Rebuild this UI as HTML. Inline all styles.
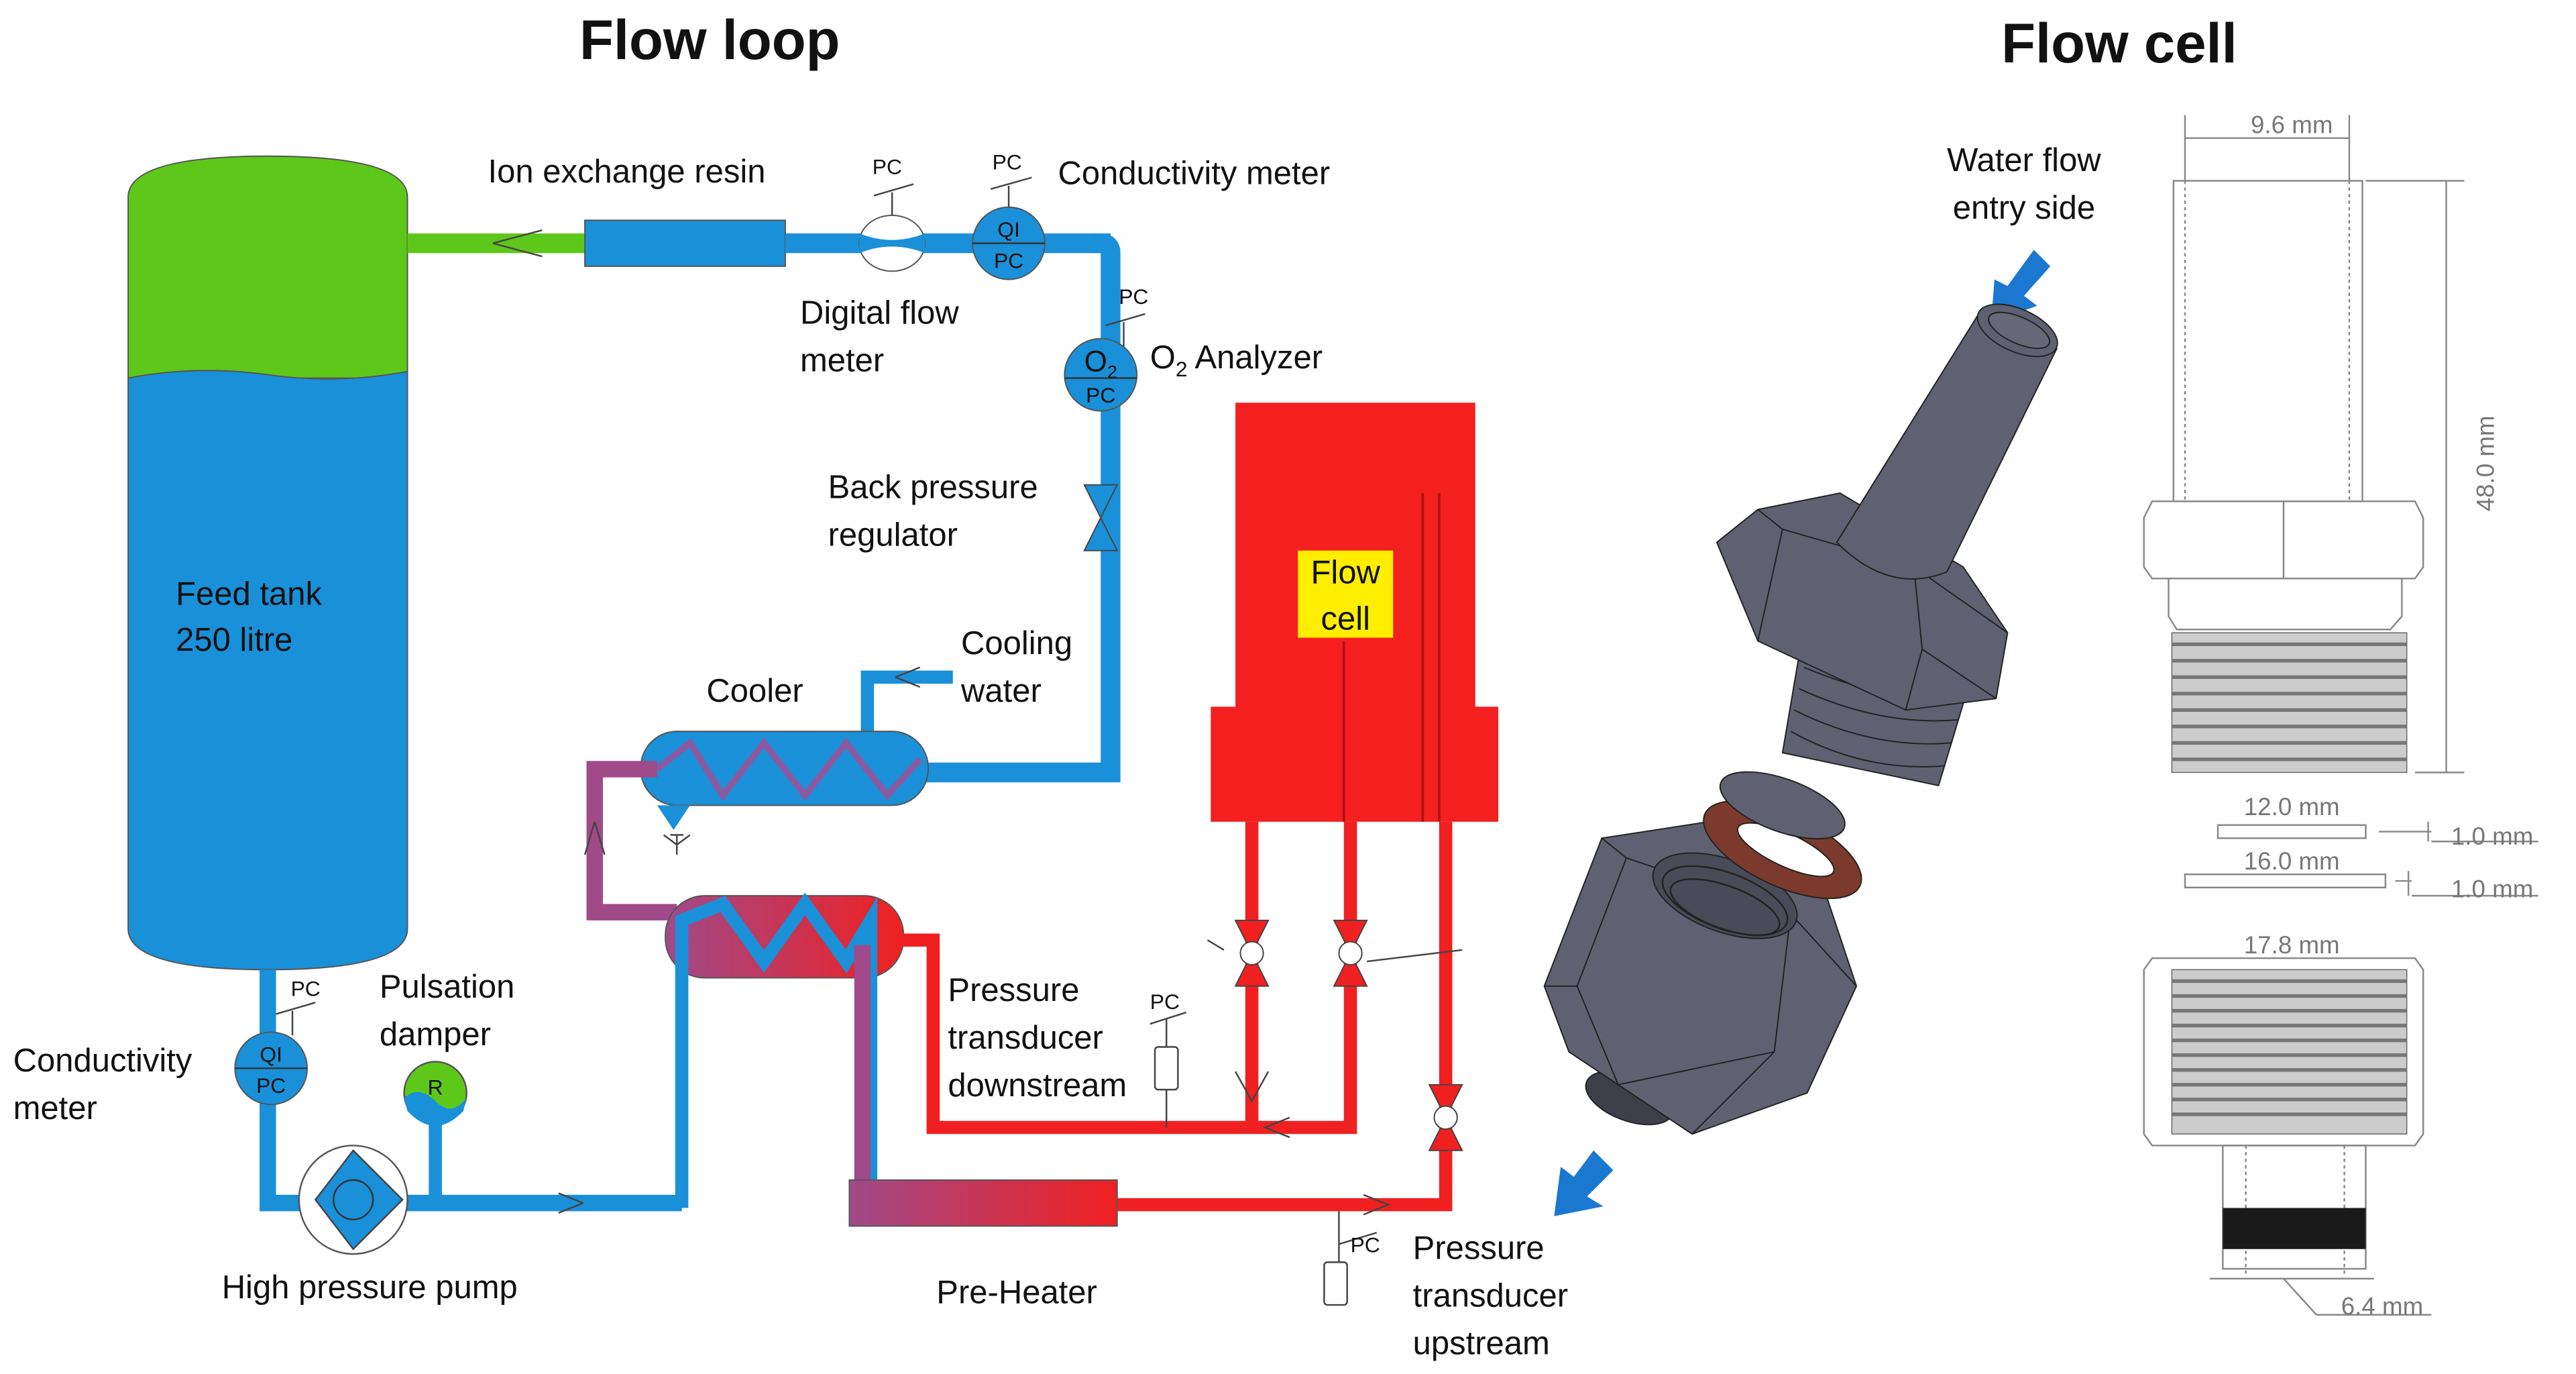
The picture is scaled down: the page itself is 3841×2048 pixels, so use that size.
<!DOCTYPE html>
<html><head><meta charset="utf-8"><style>
html,body{margin:0;padding:0;background:#fff;}
svg{display:block;}
text{font-family:"Liberation Sans",sans-serif;fill:#111;}
</style></head><body>
<svg width="3841" height="2048" viewBox="0 0 1568 836" xmlns="http://www.w3.org/2000/svg">
<defs>
<linearGradient id="hx" x1="0" x2="1"><stop offset="0" stop-color="#a04a8a"/><stop offset="1" stop-color="#f02020"/></linearGradient>
</defs>
<rect width="1568" height="836" fill="#fff"/>
<text x="432" y="36" font-size="34" font-weight="bold" text-anchor="middle">Flow loop</text>
<text x="1290" y="38" font-size="34" font-weight="bold" text-anchor="middle">Flow cell</text>

<g font-size="20">
<path d="M78,230 L78,120 Q78,95 163,95 Q248,95 248,120 L248,230 Z" fill="#5ec81a" stroke="#555" stroke-width="0.8"/>
<path d="M78,230 Q120,222 163,228 Q205,234 248,226 L248,565 Q248,590 163,590 Q78,590 78,565 Z" fill="#1a90d8" stroke="#555" stroke-width="0.8"/>
<text x="107" y="368">Feed tank</text>
<text x="107" y="396">250 litre</text>
<rect x="248" y="142" width="110" height="12" fill="#5ec81a"/>
<path d="M300,148 L330,140 M300,148 L330,156" stroke="#444" stroke-width="1"/>
<rect x="356" y="134" width="122" height="28" fill="#1a90d8" stroke="#555" stroke-width="0.8"/>
<text x="297" y="111">Ion exchange resin</text>
<rect x="478" y="142" width="198" height="12" fill="#1a90d8"/>
<ellipse cx="543" cy="148" rx="20" ry="17" fill="#fff" stroke="#555" stroke-width="0.8"/>
<path d="M523,142 Q543,150 563,142 L563,154 Q543,146 523,154 Z" fill="#1a90d8"/>
<line x1="543" y1="131" x2="543" y2="117" stroke="#444"/><line x1="532" y1="119" x2="556" y2="112" stroke="#444"/>
<text x="531" y="106" font-size="13">PC</text>
<text x="487" y="197">Digital flow</text><text x="487" y="226">meter</text>
<circle cx="614" cy="148" r="22" fill="#1a90d8" stroke="#555" stroke-width="0.8"/>
<line x1="592" y1="148" x2="636" y2="148" stroke="#333"/>
<text x="614" y="144" font-size="13" text-anchor="middle">QI</text><text x="614" y="163" font-size="13" text-anchor="middle">PC</text>
<line x1="614" y1="126" x2="614" y2="113" stroke="#444"/><line x1="603" y1="115" x2="628" y2="108" stroke="#444"/>
<text x="604" y="103" font-size="13">PC</text>
<text x="644" y="112">Conductivity meter</text>
<path d="M664,148 L670,148 Q676,148 676,154 L676,470 L560,470" fill="none" stroke="#1a90d8" stroke-width="12"/>
<circle cx="670" cy="228" r="22" fill="#1a90d8" stroke="#555" stroke-width="0.8"/>
<line x1="648" y1="230" x2="692" y2="230" stroke="#333"/>
<text x="670" y="226" font-size="18" text-anchor="middle">O<tspan font-size="11" dy="4">2</tspan></text>
<text x="670" y="245" font-size="13" text-anchor="middle">PC</text>
<line x1="684" y1="211" x2="684" y2="196" stroke="#444"/><line x1="673" y1="198" x2="697" y2="191" stroke="#444"/>
<text x="681" y="185" font-size="13">PC</text>
<text x="700" y="224">O<tspan font-size="13" dy="5">2</tspan><tspan dy="-5"> Analyzer</tspan></text>
<path d="M660,295 L680,295 L670,315 Z M670,315 L660,335 L680,335 Z" fill="#1a90d8" stroke="#444" stroke-width="0.8"/>
<text x="504" y="303">Back pressure</text><text x="504" y="332">regulator</text>
<text x="585" y="398">Cooling</text><text x="585" y="427">water</text>
<text x="430" y="427">Cooler</text>
<path d="M528,447 L528,412 L580,412" fill="none" stroke="#1a90d8" stroke-width="8"/>
<path d="M545,412 L560,406 M545,412 L560,418" stroke="#444"/>
<rect x="390" y="445" width="175" height="45" rx="22" fill="#1a90d8" stroke="#555" stroke-width="0.8"/>
<path d="M400,468 L420,452 L440,484 L465,452 L490,484 L515,452 L540,484 L560,462" fill="none" stroke="#8a5aa0" stroke-width="4"/>
<path d="M400,490 L410,505 L420,490" fill="#1a90d8"/>
<path d="M408,508 L416,508 M412,508 L412,520 M404,508 L412,514 L420,508" stroke="#444" fill="none"/>
<path d="M400,468 L362,468 L362,555 L412,555" fill="none" stroke="#a04a8a" stroke-width="10"/>
<path d="M362,500 L356,520 M362,500 L368,520" stroke="#444"/>
<rect x="405" y="545" width="145" height="50" rx="24" fill="url(#hx)" stroke="#555" stroke-width="0.8"/>
<path d="M415,735 L415,560 L440,550 L465,585 L490,550 L515,585 L530,560 L530,735" fill="none" stroke="#1a90d8" stroke-width="8"/>
<path d="M525,575 L525,735 L560,735" fill="none" stroke="#a04a8a" stroke-width="10"/>
<path d="M163,590 L163,732 L415,732" fill="none" stroke="#1a90d8" stroke-width="10"/>
<path d="M355,732 L340,726 M355,732 L340,738" stroke="#444"/>
<circle cx="215" cy="730" r="33" fill="#fff" stroke="#555"/>
<path d="M215,700 L245,730 L215,760 L192,730 Z" fill="#1a90d8" stroke="#444"/>
<circle cx="215" cy="730" r="12" fill="#1a90d8" stroke="#333"/>
<text x="135" y="790">High pressure pump</text>
<circle cx="165" cy="650" r="22" fill="#1a90d8" stroke="#555" stroke-width="0.8"/>
<line x1="143" y1="650" x2="187" y2="650" stroke="#333"/>
<text x="165" y="646" font-size="13" text-anchor="middle">QI</text><text x="165" y="665" font-size="13" text-anchor="middle">PC</text>
<line x1="178" y1="630" x2="178" y2="615" stroke="#444"/><line x1="168" y1="617" x2="192" y2="610" stroke="#444"/>
<text x="177" y="606" font-size="13">PC</text>
<text x="8" y="652">Conductivity</text><text x="8" y="681">meter</text>
<line x1="265" y1="680" x2="265" y2="732" stroke="#1a90d8" stroke-width="8"/>
<circle cx="265" cy="665" r="19" fill="#5ec81a" stroke="#555"/>
<path d="M246,668 Q255,660 265,670 Q275,680 284,668 L282,676 Q265,694 248,676 Z" fill="#1a90d8"/>
<text x="265" y="666" font-size="13" text-anchor="middle">R</text>
<text x="231" y="607">Pulsation</text><text x="231" y="636">damper</text>
<path d="M545,572 L568,572 L568,686 L822,686 L822,500" fill="none" stroke="#f02020" stroke-width="8"/>
<path d="M762,500 L762,686" stroke="#f02020" stroke-width="8"/>
<path d="M680,733 L880,733 L880,500" fill="none" stroke="#f02020" stroke-width="8"/>
<path d="M752,245 L898,245 L898,430 L912,430 L912,500 L737,500 L737,430 L752,430 Z" fill="#f42020"/>
<path d="M818,390 L818,500 M866,300 L866,500 M876,300 L876,500" stroke="#b01010" stroke-width="1.5"/>
<rect x="790" y="335" width="58" height="53" fill="#ffee00"/>
<text x="819" y="355" text-anchor="middle">Flow</text><text x="819" y="383" text-anchor="middle">cell</text>
<g stroke="#444" stroke-width="0.8" fill="#f02020">
<path d="M752,560 L772,560 L762,580 Z"/><path d="M752,600 L772,600 L762,580 Z"/><circle cx="762" cy="580" r="7" fill="#fff"/>
<path d="M812,560 L832,560 L822,580 Z"/><path d="M812,600 L832,600 L822,580 Z"/><circle cx="822" cy="580" r="7" fill="#fff"/>
<path d="M870,660 L890,660 L880,680 Z"/><path d="M870,700 L890,700 L880,680 Z"/><circle cx="880" cy="680" r="7" fill="#fff"/>
</g>
<line x1="735" y1="572" x2="745" y2="578" stroke="#444"/><line x1="832" y1="585" x2="890" y2="578" stroke="#444"/>
<path d="M752,652 L762,670 L772,652 M785,680 L770,686 L785,692 M830,727 L845,733 L830,739" fill="none" stroke="#444"/>
<rect x="517" y="718" width="163" height="28" fill="url(#hx)" stroke="#555" stroke-width="0.8"/>
<text x="570" y="793">Pre-Heater</text>
<rect x="703" y="637" width="14" height="26" rx="2" fill="#fff" stroke="#444"/>
<line x1="710" y1="637" x2="710" y2="620" stroke="#444"/><line x1="700" y1="623" x2="722" y2="616" stroke="#444"/>
<text x="700" y="614" font-size="13">PC</text><line x1="710" y1="663" x2="710" y2="686" stroke="#444"/>
<text x="577" y="609">Pressure</text><text x="577" y="638">transducer</text><text x="577" y="667">downstream</text>
<rect x="806" y="768" width="14" height="26" rx="2" fill="#fff" stroke="#444"/>
<line x1="815" y1="768" x2="815" y2="737" stroke="#444"/><line x1="815" y1="757" x2="838" y2="750" stroke="#444"/>
<text x="822" y="762" font-size="13">PC</text>
<text x="860" y="766">Pressure</text><text x="860" y="795">transducer</text><text x="860" y="824">upstream</text>
<text x="1232" y="104" text-anchor="middle">Water flow</text>
<text x="1232" y="133" text-anchor="middle">entry side</text>
</g>

<!-- 3D model -->
<path d="M1238,152 L1248,162 L1232,180 L1240,186 L1212,196 L1214,170 L1222,174 Z" fill="#1a78d0"/>
<path d="M970,700 L982,712 L966,728 L976,734 L946,740 L950,710 L958,716 Z" fill="#1a78d0"/>
<g stroke="#222" stroke-width="0.8" stroke-linejoin="round">
<!-- lower hex nut -->
<ellipse cx="992" cy="668" rx="28" ry="14" transform="rotate(20 992 668)" fill="#3e3f4a"/>
<path d="M940,600 L975,510 L1040,500 L1110,540 L1130,600 L1100,665 L1030,690 L955,640 Z" fill="#5f6172"/>
<path d="M975,510 L990,522 L1090,556 L1130,600 M990,522 L960,600 L940,600 M960,600 L985,660 M1090,556 L1080,640 L1030,690 M1080,640 L985,660" fill="none"/>
<ellipse cx="1050" cy="545" rx="46" ry="22" transform="rotate(20 1050 545)" fill="#4a4b58"/>
<g fill="none" stroke="#222" stroke-width="1">
<ellipse cx="1050" cy="548" rx="40" ry="17" transform="rotate(20 1050 548)"/>
<ellipse cx="1050" cy="552" rx="35" ry="13" transform="rotate(20 1050 552)"/>
</g>
<!-- washer -->
<ellipse cx="1085" cy="517" rx="52" ry="22" transform="rotate(25 1085 517)" fill="#7c3a2c"/>
<ellipse cx="1087" cy="517" rx="32" ry="10" transform="rotate(25 1087 517)" fill="#fff"/>
<ellipse cx="1085" cy="490" rx="40" ry="16" transform="rotate(20 1085 490)" fill="#5f6172"/>
<!-- threads -->
<path d="M1100,370 L1205,395 L1180,478 L1085,458 Z" fill="#5f6172"/>
<g fill="none">
<path d="M1090,445 Q1135,470 1184,466 M1092,432 Q1140,456 1188,452 M1095,419 Q1145,442 1192,438 M1098,406 Q1150,428 1196,424 M1100,393 Q1155,414 1200,410"/>
</g>
<!-- upper hex -->
<path d="M1045,330 L1070,310 L1120,300 L1195,345 L1222,385 L1215,425 L1160,432 L1070,390 Z" fill="#5f6172"/>
<path d="M1070,310 L1085,322 L1165,345 L1222,385 M1085,322 L1070,390 M1165,345 L1170,395 L1160,432 M1170,395 L1215,425" fill="none"/>
<!-- tube -->
<path d="M1205,190 L1252,212 L1185,348 Q1150,362 1118,330 Z" fill="#5f6172"/>
<ellipse cx="1228" cy="201" rx="26" ry="13" transform="rotate(24 1228 201)" fill="#5f6172"/>
<ellipse cx="1229" cy="201" rx="20" ry="8" transform="rotate(24 1229 201)" fill="#666878"/>
</g>

<!-- technical drawing -->
<g fill="none" stroke="#888" stroke-width="1">
<rect x="1323" y="110" width="115" height="195"/>
<line x1="1330" y1="110" x2="1330" y2="305" stroke-dasharray="2,2"/><line x1="1430" y1="110" x2="1430" y2="305" stroke-dasharray="2,2"/>
<line x1="1330" y1="70" x2="1330" y2="110"/><line x1="1430" y1="70" x2="1430" y2="110"/><line x1="1330" y1="84" x2="1430" y2="84"/>
<path d="M1310,305 L1470,305 L1475,315 L1475,345 L1470,352 L1310,352 L1305,345 L1305,315 Z"/>
<line x1="1390" y1="305" x2="1390" y2="352"/>
<path d="M1320,352 L1462,352 L1462,375 L1455,383 L1325,383 L1320,375 Z"/>
<line x1="1440" y1="110" x2="1500" y2="110"/><line x1="1470" y1="470" x2="1500" y2="470"/><line x1="1489" y1="110" x2="1489" y2="470"/>
<rect x="1350" y="502" width="90" height="8"/><rect x="1330" y="532" width="122" height="8"/>
<line x1="1448" y1="506" x2="1480" y2="506"/><line x1="1478" y1="500" x2="1478" y2="512"/><line x1="1480" y1="512" x2="1545" y2="512"/>
<line x1="1458" y1="536" x2="1468" y2="536"/><line x1="1466" y1="530" x2="1466" y2="545"/><line x1="1468" y1="545" x2="1545" y2="545"/>
<path d="M1310,583 L1470,583 L1475,590 L1475,690 L1470,697 L1310,697 L1305,690 L1305,590 Z"/>
<rect x="1353" y="697" width="87" height="75"/>
<line x1="1367" y1="697" x2="1367" y2="775" stroke-dasharray="2,2"/><line x1="1427" y1="697" x2="1427" y2="775" stroke-dasharray="2,2"/>
<line x1="1345" y1="778" x2="1445" y2="778"/><line x1="1390" y1="778" x2="1410" y2="800"/><line x1="1410" y1="800" x2="1480" y2="800"/>
</g>
<g fill="#ccc" stroke="#666" stroke-width="0.6">
<rect x="1322" y="385" width="143" height="85"/>
<rect x="1322" y="590" width="143" height="100"/>
</g>
<g stroke="#777" stroke-width="2.2">
<line x1="1322" y1="392" x2="1465" y2="392"/><line x1="1322" y1="402" x2="1465" y2="402"/><line x1="1322" y1="412" x2="1465" y2="412"/><line x1="1322" y1="422" x2="1465" y2="422"/><line x1="1322" y1="432" x2="1465" y2="432"/><line x1="1322" y1="442" x2="1465" y2="442"/><line x1="1322" y1="452" x2="1465" y2="452"/><line x1="1322" y1="462" x2="1465" y2="462"/>
<line x1="1322" y1="597" x2="1465" y2="597"/><line x1="1322" y1="606" x2="1465" y2="606"/><line x1="1322" y1="615" x2="1465" y2="615"/><line x1="1322" y1="624" x2="1465" y2="624"/><line x1="1322" y1="633" x2="1465" y2="633"/><line x1="1322" y1="642" x2="1465" y2="642"/><line x1="1322" y1="651" x2="1465" y2="651"/><line x1="1322" y1="660" x2="1465" y2="660"/><line x1="1322" y1="669" x2="1465" y2="669"/><line x1="1322" y1="678" x2="1465" y2="678"/>
</g>
<rect x="1353" y="735" width="87" height="25" fill="#1a1a1a"/>
<g font-size="15">
<text x="1395" y="81" text-anchor="middle" style="fill:#777">9.6 mm</text>
<text x="1395" y="496" text-anchor="middle" style="fill:#777">12.0 mm</text>
<text x="1395" y="529" text-anchor="middle" style="fill:#777">16.0 mm</text>
<text x="1395" y="580" text-anchor="middle" style="fill:#777">17.8 mm</text>
<text x="1492" y="514" style="fill:#777">1.0 mm</text>
<text x="1492" y="546" style="fill:#777">1.0 mm</text>
<text x="1425" y="800" style="fill:#777">6.4 mm</text>
<text transform="translate(1518 282) rotate(-90)" text-anchor="middle" style="fill:#777">48.0 mm</text>
</g>
</svg>
</body></html>
